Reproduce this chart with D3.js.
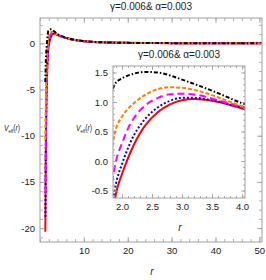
<!DOCTYPE html>
<html lang="en">
<head>
<meta charset="UTF-8">
<title>Effective potential</title>
<script src="https://cdnjs.cloudflare.com/ajax/libs/d3/7.8.5/d3.min.js"></script>
<style>
    body { margin: 0; background: #fff; }
    svg { display: block; }
    text { font-family: "Liberation Sans Narrow", "Liberation Sans", Arial, sans-serif; fill: #222; }
    .frame { fill: none; stroke: #a0a0a0; stroke-width: 1; }
    .axis line { stroke: #a0a0a0; stroke-width: 0.8; }
    .axis text { font-size: 9.5px; fill: #222; font-family: "Liberation Sans Narrow", "Liberation Sans", Arial, sans-serif; }
    .curve { fill: none; stroke-width: 2; }
</style>
</head>
<body>
<svg id="chart" width="266" height="280"></svg>
<script>
"use strict";

const titleText = "γ=0.006& α=0.003";

// [r, V_eff]
const redPts = [[1.22, -20.4], [1.3, -13], [1.4, -8.4], [1.5, -5.5], [1.6, -3.6], [1.7, -2.2], [1.8, -1.25], [1.9, -0.55],
    [2.0, -0.22], [2.1, 0.05], [2.2, 0.28], [2.3, 0.47], [2.4, 0.62], [2.6, 0.83], [2.8, 0.96], [3.0, 1.03], [3.2, 1.05],
    [3.5, 1.02], [3.8, 0.95], [4.0, 0.89], [5, 0.72], [6, 0.56], [7, 0.44], [8, 0.35], [10, 0.22], [12, 0.15], [15, 0.1],
    [20, 0.05], [30, 0.02], [40, 0.01], [50.5, 0.0]];
const bluePts = [[1.24, -18.8], [1.3, -13.5], [1.4, -8.0], [1.5, -5.1], [1.6, -3.3], [1.7, -1.9], [1.8, -1.0], [1.9, -0.38],
    [2.0, -0.05], [2.1, 0.22], [2.2, 0.44], [2.3, 0.6], [2.4, 0.73], [2.6, 0.91], [2.8, 1.02], [3.0, 1.07], [3.2, 1.07],
    [3.5, 1.03], [3.8, 0.96], [4.0, 0.91], [5, 0.73], [6, 0.57], [7, 0.45], [8, 0.35], [10, 0.22], [12, 0.15], [15, 0.1],
    [20, 0.05], [30, 0.02], [40, 0.01], [50.5, 0.0]];
const magentaPts = [[1.25, -16.2], [1.3, -12.5], [1.4, -7.2], [1.5, -4.4], [1.6, -2.7], [1.7, -1.5], [1.8, -0.6], [1.9, 0.0],
    [2.0, 0.3], [2.1, 0.55], [2.2, 0.73], [2.4, 0.95], [2.6, 1.07], [2.8, 1.13], [3.0, 1.14], [3.3, 1.11], [3.6, 1.03],
    [4.0, 0.92], [5, 0.74], [6, 0.58], [7, 0.45], [8, 0.36], [10, 0.23], [12, 0.15], [15, 0.1], [20, 0.05], [30, 0.02],
    [40, 0.01], [50.5, 0.0]];
const orangePts = [[1.2, -10.5], [1.3, -7.0], [1.4, -4.3], [1.5, -2.6], [1.6, -1.4], [1.7, -0.6], [1.8, 0.05], [1.9, 0.55],
    [2.0, 0.75], [2.2, 0.98], [2.4, 1.13], [2.6, 1.22], [2.8, 1.25], [3.0, 1.24], [3.3, 1.18], [3.6, 1.08], [4.0, 0.93],
    [5, 0.75], [6, 0.59], [7, 0.46], [8, 0.36], [10, 0.23], [12, 0.16], [15, 0.1], [20, 0.05], [30, 0.02], [40, 0.01],
    [50.5, 0.0]];
const blackPts = [[1.2, -4.2], [1.3, -2.4], [1.4, -1.2], [1.5, -0.4], [1.6, 0.2], [1.7, 0.65], [1.8, 1.05], [1.88, 1.3],
    [2.0, 1.4], [2.2, 1.48], [2.4, 1.51], [2.6, 1.5], [2.8, 1.45], [3.0, 1.38], [3.3, 1.27], [3.6, 1.15], [4.0, 0.98],
    [5, 0.77], [6, 0.6], [7, 0.47], [8, 0.37], [10, 0.24], [12, 0.16], [15, 0.1], [20, 0.05], [30, 0.02], [40, 0.01],
    [50.5, 0.0]];

const series = [
    { pts: redPts, color: "#ff0000", dash: null },
    { pts: bluePts, color: "#0000ff", dash: "2,2" },
    { pts: magentaPts, color: "#ff00ff", dash: "7,4" },
    { pts: orangePts, color: "#ff8000", dash: "4,2" },
    { pts: blackPts, color: "#000000", dash: "4,2,1.5,2" }
];

const mainXTicks = [10, 20, 30, 40, 50];
const mainYTicks = [-20, -15, -10, -5, 0];
const insetXTicks = [2.0, 2.5, 3.0, 3.5, 4.0];
const insetYTicks = [-0.5, 0.0, 0.5, 1.0, 1.5];

const svg = d3.select("#chart");

function range(a, b, step) {
    const out = [];
    const start = Math.ceil(a / step - 1e-9) * step;
    for (let v = start; v <= b + 1e-9; v += step) out.push(+v.toFixed(4));
    return out;
}

function drawPanel(opts) {
    const g = svg.append("g");
    const x = d3.scaleLinear().domain(opts.xDomain).range([opts.left, opts.right]);
    const y = d3.scaleLinear().domain(opts.yDomain).range([opts.bottom, opts.top]);

    g.append("rect")
        .attr("x", opts.left).attr("y", opts.top)
        .attr("width", opts.right - opts.left).attr("height", opts.bottom - opts.top)
        .attr("fill", "#fff").attr("stroke", "none");

    const clipId = "clip" + opts.id;
    svg.append("clipPath").attr("id", clipId)
        .append("rect")
        .attr("x", opts.left).attr("y", opts.top)
        .attr("width", opts.right - opts.left).attr("height", opts.bottom - opts.top);

    const line = d3.line()
        .x(d => x(d[0]))
        .y(d => y(d[1]))
        .curve(d3.curveMonotoneX);

    const curves = g.append("g").attr("clip-path", "url(#" + clipId + ")");
    series.forEach(s => {
        curves.append("path")
            .attr("class", "curve")
            .attr("d", line(s.pts))
            .attr("stroke", s.color)
            .attr("stroke-dasharray", s.dash);
    });

    // minor + major ticks on all four sides, pointing inward
    const xMinor = range(opts.xDomain[0], opts.xDomain[1], opts.xMinorStep);
    const yMinor = range(opts.yDomain[0], opts.yDomain[1], opts.yMinorStep);

    const sides = [
        [() => d3.axisBottom(x), opts.bottom, "x", true],
        [() => d3.axisTop(x), opts.top, "x", false],
        [() => d3.axisLeft(y), opts.left, "y", true],
        [() => d3.axisRight(y), opts.right, "y", false]
    ];
    sides.forEach(([axisFn, pos, dim, labels]) => {
        const minor = dim === "x" ? xMinor : yMinor;
        const major = dim === "x" ? opts.xTicks : opts.yTicks;
        const transform = dim === "x" ? "translate(0," + pos + ")" : "translate(" + pos + ",0)";
        const minorAxis = axisFn().tickValues(minor).tickSize(-opts.minorLen).tickFormat("");
        g.append("g").attr("class", "axis").attr("transform", transform).call(minorAxis)
            .call(a => a.select(".domain").remove());
        const majorAxis = axisFn().tickValues(major).tickSize(-opts.majorLen)
            .tickPadding(labels ? opts.pad : 0)
            .tickFormat(labels ? opts.fmt : "");
        g.append("g").attr("class", "axis").attr("transform", transform).call(majorAxis)
            .call(a => a.select(".domain").remove())
            .call(a => a.attr("font-family", null).attr("font-size", null));
    });

    g.append("rect").attr("class", "frame")
        .attr("x", opts.left).attr("y", opts.top)
        .attr("width", opts.right - opts.left).attr("height", opts.bottom - opts.top);

    g.append("text")
        .attr("x", (opts.left + opts.right) / 2).attr("y", opts.titleY)
        .attr("text-anchor", "middle").attr("font-size", opts.titleSize)
        .text(titleText);

    g.append("text")
        .attr("x", opts.rX).attr("y", opts.rY)
        .attr("text-anchor", "middle").attr("font-size", 10)
        .attr("font-style", "italic")
        .text("r");

    // condensed y label: V_eff(r)
    const yl = g.append("text")
        .attr("transform", "translate(" + opts.vX + "," + opts.vY + ") scale(0.72,1)")
        .attr("font-size", 9.5);
    yl.append("tspan").attr("font-style", "italic").text("V");
    yl.append("tspan").attr("font-size", 6).attr("dy", 2).text("eff");
    yl.append("tspan").attr("dy", -2).text("(");
    yl.append("tspan").attr("font-style", "italic").text("r");
    yl.append("tspan").text(")");
}

drawPanel({
    id: "main",
    left: 40, right: 262, top: 18, bottom: 242,
    xDomain: [0, 50.6], yDomain: [-21.5, 2.74],
    xTicks: mainXTicks, yTicks: mainYTicks,
    xMinorStep: 2, yMinorStep: 1,
    majorLen: 5, minorLen: 3, pad: 5,
    fmt: d => String(d),
    titleY: 10, titleSize: 10,
    rX: 152, rY: 275,
    vX: 4, vY: 131
});

drawPanel({
    id: "inset",
    left: 113, right: 245, top: 66, bottom: 198,
    xDomain: [1.85, 4.05], yDomain: [-0.627, 1.61],
    xTicks: insetXTicks, yTicks: insetYTicks,
    xMinorStep: 0.1, yMinorStep: 0.1,
    majorLen: 4, minorLen: 2, pad: 5,
    fmt: d => d.toFixed(1),
    titleY: 58, titleSize: 10,
    rX: 180, rY: 231,
    vX: 76, vY: 131
});
</script>
</body>
</html>
